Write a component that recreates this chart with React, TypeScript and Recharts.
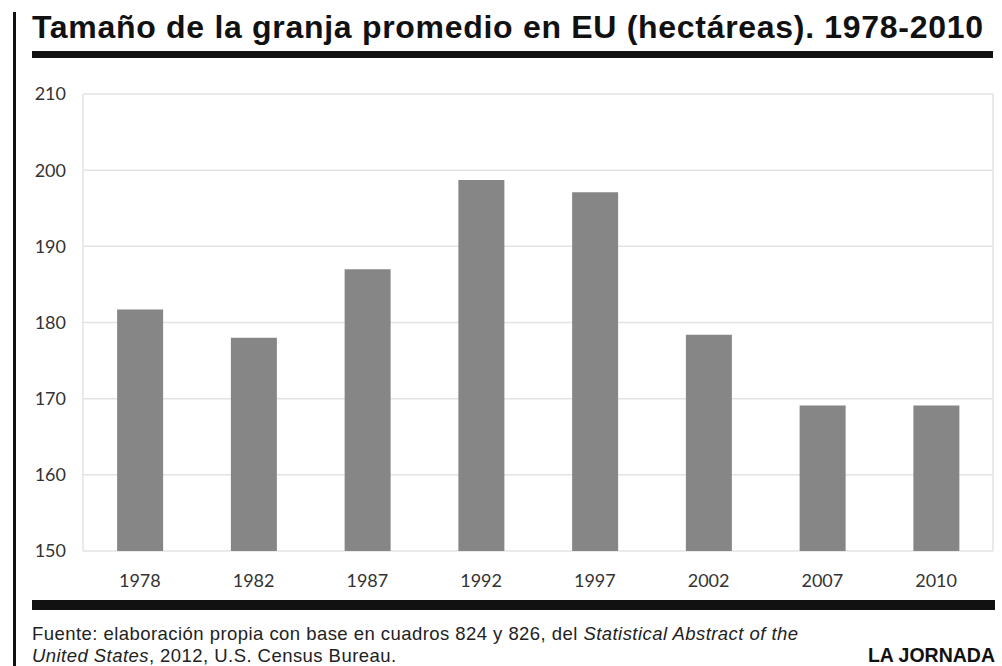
import React from "react";
import { BarChart, Bar, XAxis, YAxis, CartesianGrid } from "recharts";

const years = ["1978", "1982", "1987", "1992", "1997", "2002", "2007", "2010"];
const hectares = [181.7, 178.0, 187.0, 198.7, 197.1, 178.4, 169.1, 169.1];
const yTicks = [150, 160, 170, 180, 190, 200, 210];

const TITLE = "Tamaño de la granja promedio en EU (hectáreas). 1978-2010";

const data = years.map((year, i) => ({ year, value: hectares[i] }));

const tickStyle = { fontFamily: "Lato, sans-serif", fontSize: 18, fill: "#333" };
const sans = "'Liberation Sans', Arial, sans-serif";

export default function App() {
    return (
        <div
            style={{
                position: "absolute",
                left: 0,
                top: 0,
                width: 1002,
                height: 666,
                background: "#fff",
                overflow: "hidden",
            }}
        >
            <svg
                width={1002}
                height={666}
                style={{ position: "absolute", left: 0, top: 0 }}
            >
                <rect x={13} y={12} width={3} height={654} fill="#111" />
                <text
                    x={32}
                    y={38}
                    fontFamily={sans}
                    fontWeight="bold"
                    fontSize={32}
                    letterSpacing={0.7}
                    fill="#111"
                >
                    {TITLE}
                </text>
                <rect x={32} y={51} width={961} height={7} fill="#111" />
                <rect x={32} y={600} width={963} height={10} fill="#111" />
                <text
                    x={32}
                    y={640}
                    fontFamily={sans}
                    fontSize={18.5}
                    letterSpacing={0.45}
                    fill="#222"
                >
                    Fuente: elaboración propia con base en cuadros 824 y 826, del{" "}
                    <tspan fontStyle="italic">Statistical Abstract of the</tspan>
                </text>
                <text
                    x={32}
                    y={662}
                    fontFamily={sans}
                    fontSize={18.5}
                    letterSpacing={0.45}
                    fill="#222"
                >
                    <tspan fontStyle="italic">United States</tspan>, 2012, U.S. Census Bureau.
                </text>
                <text
                    x={995}
                    y={662}
                    textAnchor="end"
                    fontFamily={sans}
                    fontWeight="bold"
                    fontSize={19.5}
                    fill="#111"
                >
                    LA JORNADA
                </text>
            </svg>
            <div style={{ position: "absolute", left: 0, top: 0 }}>
                <BarChart
                    width={1002}
                    height={600}
                    data={data}
                    barCategoryGap="30%"
                    margin={{ top: 94, right: 9, bottom: 0, left: 0 }}
                >
                    <CartesianGrid
                        stroke="#e3e3e3"
                        strokeWidth={1.5}
                        verticalCoordinatesGenerator={({ offset }: any) => [
                            offset.left,
                            offset.left + offset.width,
                        ]}
                    />
                    <XAxis
                        dataKey="year"
                        axisLine={false}
                        tickLine={false}
                        tickSize={0}
                        tickMargin={23}
                        height={49}
                        tick={tickStyle}
                    />
                    <YAxis
                        domain={[150, 210]}
                        ticks={yTicks}
                        allowDataOverflow
                        axisLine={false}
                        tickLine={false}
                        tickSize={0}
                        tickMargin={17}
                        width={83}
                        tick={tickStyle}
                    />
                    <Bar dataKey="value" fill="#868686" isAnimationActive={false} />
                </BarChart>
            </div>
        </div>
    );
}
